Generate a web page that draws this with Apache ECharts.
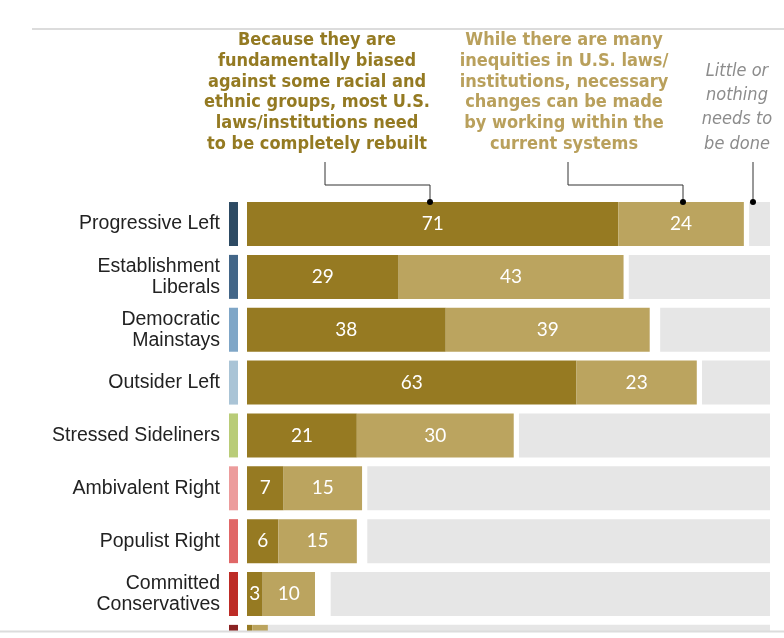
<!DOCTYPE html>
<html>
<head>
<meta charset="utf-8">
<script src="https://cdn.jsdelivr.net/npm/echarts@6/dist/echarts.min.js"></script>
<style>
html,body{margin:0;padding:0;background:#fff;width:784px;height:638px;overflow:hidden;}
#chart{width:784px;height:680px;}
</style>
</head>
<body>
<div id="chart"></div>
<script>
const categories = ['Progressive Left','Establishment\nLiberals','Democratic\nMainstays','Outsider Left','Stressed Sideliners','Ambivalent Right','Populist Right','Committed\nConservatives','Faith and Flag\nConservatives'];
const rebuilt = [71,29,38,63,21,7,6,3,1];
const withinSystems = [24,43,39,23,30,15,15,10,3];
const littleOrNothing = [4,27,21,13,48,77,77,84,96];
const typologyColors = ['#2d4a63','#436688','#7fa6c7','#aac4d6','#b9cc78','#ec9c9c','#e06767','#bd2c26','#8a2222'];
const header1 = 'Because they are\nfundamentally biased\nagainst some racial and\nethnic groups, most U.S.\nlaws/institutions need\nto be completely rebuilt';
const header2 = 'While there are many\ninequities in U.S. laws/\ninstitutions, necessary\nchanges can be made\nby working within the\ncurrent systems';
const header3 = 'Little or\nnothing\nneeds to\nbe done';

const gapValues = rebuilt.map((v,i)=>Math.max(0,100 - v - withinSystems[i] - littleOrNothing[i]));

const FONT = '"DejaVu Sans Condensed","Liberation Sans Narrow","Roboto",sans-serif';
const LABFONT = '"Liberation Sans",Arial,sans-serif';
const NUMFONT = 'Lato,"Liberation Sans",sans-serif';
const chart = echarts.init(document.getElementById('chart'), null, {renderer:'canvas', width:784, height:680});
const gridTop = 197.6, gridH = 475.7;
const valLabel = {show:true, position:'inside', color:'#fff', fontSize:19, fontFamily:NUMFONT, formatter:p=>p.value};

chart.setOption({
  animation:false,
  backgroundColor:'#fff',
  grid:[
    {left:247, right:14, top:gridTop, height:gridH, containLabel:false},
    {left:229, width:9, top:gridTop, height:gridH, containLabel:false}
  ],
  xAxis:[
    {type:'value', gridIndex:0, min:0, max:100, show:false},
    {type:'value', gridIndex:1, min:0, max:1, show:false}
  ],
  yAxis:[
    {type:'category', gridIndex:0, data:categories, inverse:true,
     axisLine:{show:false}, axisTick:{show:false}, splitLine:{show:false},
     axisLabel:{margin:27, color:'#222', fontSize:19.5, lineHeight:21, fontFamily:LABFONT, align:'right'}},
    {type:'category', gridIndex:1, data:categories, inverse:true, show:false}
  ],
  series:[
    {type:'bar', name:'rebuilt', stack:'s', xAxisIndex:0, yAxisIndex:0, barWidth:44, data:rebuilt,
     itemStyle:{color:'#967a22'}, label:valLabel},
    {type:'bar', name:'within', stack:'s', xAxisIndex:0, yAxisIndex:0, barWidth:44, data:withinSystems,
     itemStyle:{color:'#bba45f'}, label:valLabel},
    {type:'bar', name:'gap', stack:'s', xAxisIndex:0, yAxisIndex:0, barWidth:44, data:gapValues,
     itemStyle:{color:'rgba(0,0,0,0)'}, silent:true},
    {type:'bar', name:'little', stack:'s', xAxisIndex:0, yAxisIndex:0, barWidth:44, data:littleOrNothing,
     itemStyle:{color:'#e6e6e6'}},
    {type:'bar', name:'strip', xAxisIndex:1, yAxisIndex:1, barWidth:44,
     data:typologyColors.map(c=>({value:1, itemStyle:{color:c}}))}
  ],
  graphic:[
    {type:'line', z:100, shape:{x1:32,y1:29,x2:784,y2:29}, style:{stroke:'#dcdcdc', lineWidth:2}},
    {type:'text', z:100, x:317, y:30, style:{text:header1, fill:'#947a22', font:'bold 18px '+FONT, textAlign:'center', textVerticalAlign:'top', lineHeight:20.8}},
    {type:'text', z:100, x:564, y:30, style:{text:header2, fill:'#b9a05c', font:'bold 18px '+FONT, textAlign:'center', textVerticalAlign:'top', lineHeight:20.8}},
    {type:'text', z:100, x:737, y:59, style:{text:header3, fill:'#8c8c8c', font:'italic 18px '+FONT, textAlign:'center', textVerticalAlign:'top', lineHeight:24.3}},
    {type:'polyline', z:100, shape:{points:[[325,162],[325,185],[430,185],[430,202]]}, style:{stroke:'#333', lineWidth:1, fill:null}},
    {type:'polyline', z:100, shape:{points:[[568,162],[568,185],[683,185],[683,202]]}, style:{stroke:'#333', lineWidth:1, fill:null}},
    {type:'line', z:100, shape:{x1:753,y1:162,x2:753,y2:202}, style:{stroke:'#333', lineWidth:1}},
    {type:'circle', z:101, shape:{cx:430, cy:202, r:3}, style:{fill:'#000'}},
    {type:'circle', z:101, shape:{cx:683, cy:202, r:3}, style:{fill:'#000'}},
    {type:'circle', z:101, shape:{cx:753, cy:202, r:3}, style:{fill:'#000'}},
    {type:'rect', z:100, shape:{x:0,y:622,width:226,height:58}, style:{fill:'#fff'}},
    {type:'rect', z:100, shape:{x:0,y:632,width:784,height:48}, style:{fill:'#fff'}},
    {type:'line', z:101, shape:{x1:0,y1:631.5,x2:784,y2:631.5}, style:{stroke:'#dcdcdc', lineWidth:2}}
  ]
});
</script>
</body>
</html>
